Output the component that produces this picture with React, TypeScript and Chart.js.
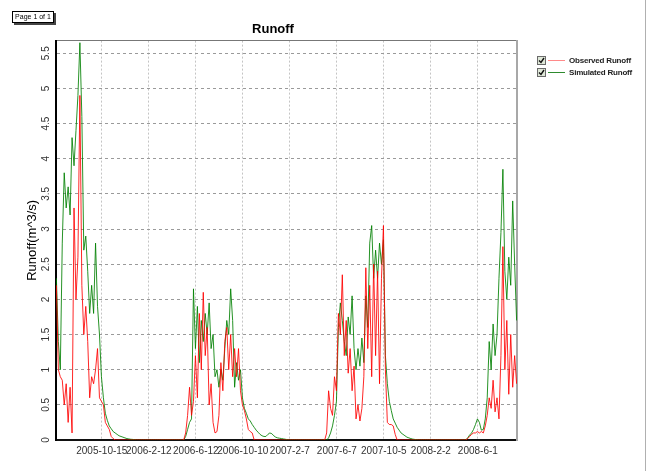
import React, { useEffect, useRef } from "react";
import { Chart, registerables } from "chart.js";

Chart.register(...registerables);

// x values are days relative to 2005-10-15; one sample every 5 days
const START_DAY = -116;
const STEP_DAYS = 5;
const X_MIN = -117;
const X_MAX = 1060;
const Y_MAX = 5.68;

const xTickDays = [0, 120, 240, 360, 480, 600, 720, 840, 960];
const xTickLabels = [
  "2005-10-15", "2006-2-12", "2006-6-12", "2006-10-10", "2007-2-7",
  "2007-6-7", "2007-10-5", "2008-2-2", "2008-6-1",
];
const yTickValues = [0, 0.5, 1, 1.5, 2, 2.5, 3, 3.5, 4, 4.5, 5, 5.5];

const observedRunoff = [
  2.2, 1.0, 0.9, 0.85, 0.5, 0.8, 0.25, 0.75, 0.1, 3.3,
  2.0, 2.6, 4.9, 2.2, 1.5, 1.9, 1.4, 0.6, 0.9, 0.8,
  1.0, 1.3, 0.6, 0.55, 0.5, 0.25, 0.2, 0.15, 0.05, 0.02,
  0, 0, 0, 0, 0, 0, 0, 0, 0, 0,
  0, 0, 0, 0, 0, 0, 0, 0, 0, 0,
  0, 0, 0, 0, 0, 0, 0, 0, 0, 0,
  0, 0, 0, 0, 0, 0,
  0.1, 0.35, 0.75, 0.35, 0.55, 1.2, 0.6, 1.8, 1.0, 2.1,
  1.2, 1.6, 0.5, 0.8, 0.25, 0.1, 0.12, 0.35, 1.1, 0.7,
  1.4, 1.6, 1.0, 1.5, 0.9, 1.3, 0.9, 1.3, 0.7, 0.5,
  0.42, 0.3, 0.15, 0.12, 0.1,
  0, 0, 0, 0, 0, 0, 0, 0, 0, 0,
  0, 0, 0, 0, 0, 0, 0, 0, 0, 0,
  0, 0, 0, 0, 0, 0, 0, 0, 0, 0,
  0, 0, 0, 0, 0, 0, 0,
  0.1, 0.7, 0.45, 0.35, 0.9, 0.7, 1.8, 1.5, 2.35, 1.2,
  1.7, 0.95, 1.3, 0.7, 1.05, 0.3, 0.5, 0.27, 0.45, 0.9,
  2.45, 1.3, 2.2, 0.9, 2.5, 1.2, 2.4, 0.8, 2.3, 3.05,
  1.0, 0.25, 0.22, 0.22, 0.2, 0.08,
  0, 0, 0, 0, 0, 0, 0, 0, 0, 0,
  0, 0, 0, 0, 0, 0, 0, 0, 0, 0,
  0, 0, 0, 0, 0, 0, 0, 0, 0, 0,
  0, 0, 0, 0, 0, 0,
  0.02, 0.05, 0.08, 0.1, 0.1, 0.12, 0.1, 0.12, 0.1, 0.2,
  0.35, 0.6, 0.45, 0.85, 0.4, 0.6, 0.3, 1.2, 2.75, 1.0,
  1.7, 0.65, 1.5, 0.75, 1.2, 0.8,
];

const simulatedRunoff = [
  2.3, 1.4, 1.0, 2.8, 3.8, 3.3, 3.6, 3.2, 4.3, 3.9,
  4.4, 4.9, 5.65, 4.6, 2.7, 2.9, 2.4, 1.8, 2.2, 1.8,
  2.8, 1.9, 1.5, 0.9, 0.6, 0.38, 0.28, 0.2, 0.16, 0.12,
  0.1, 0.08, 0.06, 0.05, 0.04, 0.03, 0.02, 0.015, 0.01, 0.008,
  0.005,
  0, 0, 0, 0, 0, 0, 0, 0, 0, 0,
  0, 0, 0, 0, 0, 0, 0, 0, 0, 0,
  0, 0, 0, 0, 0,
  0.05, 0.15, 0.25, 0.3, 2.15, 1.3, 1.9, 1.1, 1.7, 1.4,
  1.8, 1.5, 1.95, 1.3, 1.5, 0.9, 1.0, 0.75, 1.0, 0.85,
  1.3, 1.7, 1.5, 2.15, 1.7, 0.75, 1.1, 0.85, 1.0, 0.6,
  0.45, 0.38, 0.3, 0.27, 0.22, 0.18, 0.14, 0.11, 0.08, 0.06,
  0.05, 0.05, 0.08, 0.1, 0.09, 0.06, 0.04, 0.03, 0.025, 0.02,
  0.015, 0.01, 0.005,
  0, 0, 0, 0, 0, 0, 0, 0, 0, 0,
  0, 0, 0, 0, 0, 0, 0, 0, 0, 0,
  0.03, 0.1, 0.2, 0.35, 0.55, 1.6, 1.95, 1.7, 1.4, 1.2,
  1.75, 1.5, 2.05, 1.3, 1.0, 1.3, 1.05, 1.45, 1.1, 2.05,
  1.6, 2.8, 3.05, 2.3, 2.7, 2.3, 2.8, 2.5, 2.85, 1.2,
  0.8, 0.55, 0.42, 0.3, 0.24, 0.18, 0.14, 0.1, 0.08, 0.06,
  0.04, 0.03, 0.02, 0.012, 0.008, 0.004,
  0, 0, 0, 0, 0, 0, 0, 0, 0, 0,
  0, 0, 0, 0, 0, 0, 0, 0, 0, 0,
  0, 0, 0, 0, 0,
  0.03, 0.07, 0.1, 0.15, 0.22, 0.3, 0.25, 0.14, 0.15, 0.3,
  0.6, 1.4, 1.0, 1.65, 1.2, 1.5, 2.3, 2.95, 3.85, 2.4,
  2.0, 2.6, 2.2, 3.4, 2.5, 1.7,
];

const FONT = "'Liberation Sans', Arial, sans-serif";

function toPoints(values: number[]) {
  return values.map((y, i) => ({ x: START_DAY + i * STEP_DAYS, y }));
}

function CheckBox() {
  return (
    <span
      style={{
        display: "inline-block",
        width: 7,
        height: 7,
        border: "1px solid #6a6a6a",
        background: "#dfe8d8",
        position: "relative",
        boxSizing: "content-box",
      }}
    >
      <svg width="7" height="7" style={{ position: "absolute", left: 0, top: 0 }}>
        <polyline points="1,3.5 3,5.5 6,1" fill="none" stroke="#111" strokeWidth="1.4" />
      </svg>
    </span>
  );
}

export default function App() {
  const canvasRef = useRef<HTMLCanvasElement | null>(null);

  useEffect(() => {
    const canvas = canvasRef.current;
    if (!canvas) return;
    Chart.defaults.font.family = FONT;
    const chart = new Chart(canvas, {
      type: "line",
      data: {
        datasets: [
          {
            label: "Observed Runoff",
            data: toPoints(observedRunoff),
            borderColor: "rgba(255,0,0,0.85)",
            borderWidth: 1,
            pointRadius: 0,
            tension: 0,
            fill: false,
          },
          {
            label: "Simulated Runoff",
            data: toPoints(simulatedRunoff),
            borderColor: "rgba(0,128,0,0.85)",
            borderWidth: 1,
            pointRadius: 0,
            tension: 0,
            fill: false,
          },
        ],
      },
      options: {
        responsive: false,
        animation: false,
        layout: { padding: { left: 0, right: 110, top: 0, bottom: 0 } },
        plugins: {
          legend: { display: false },
          tooltip: { enabled: false },
          title: {
            display: true,
            text: "Runoff",
            color: "#000",
            font: { size: 13, weight: "bold", family: FONT },
            padding: { top: 22, bottom: 3 },
          },
        },
        scales: {
          x: {
            type: "linear",
            position: "bottom",
            min: X_MIN,
            max: X_MAX,
            afterBuildTicks: (s: any) => {
              s.ticks = xTickDays.map((v) => ({ value: v }));
            },
            afterFit: (s: any) => {
              s.height = 31;
            },
            ticks: {
              autoSkip: false,
              maxRotation: 0,
              minRotation: 0,
              padding: 5,
              color: "#333",
              font: { size: 10, family: FONT },
              callback: (_v: any, i: number) => xTickLabels[i],
            },
            grid: { color: "#c4c4c4", drawTicks: false, lineWidth: 1 },
            border: { display: true, color: "#111", width: 2, dash: [2, 2] },
          },
          x2: {
            type: "linear",
            position: "top",
            afterFit: (s: any) => {
              s.height = 0;
            },
            grid: { display: false, drawTicks: false },
            ticks: { display: false },
            border: { display: true, color: "#777", width: 1 },
          },
          y: {
            type: "linear",
            min: 0,
            max: Y_MAX,
            afterBuildTicks: (s: any) => {
              s.ticks = yTickValues.map((v) => ({ value: v }));
            },
            afterFit: (s: any) => {
              s.width = 56;
            },
            ticks: {
              minRotation: 90,
              maxRotation: 90,
              crossAlign: "center",
              padding: 2.5,
              color: "#333",
              font: { size: 10, family: FONT },
              callback: (v: any) => String(v),
            },
            grid: { color: "#9a9a9a", drawTicks: false, lineWidth: 1 },
            border: { display: true, color: "#000", width: 2, dash: [3, 3] },
            title: {
              display: true,
              text: "Runoff(m^3/s)",
              color: "#000",
              font: { size: 13, family: FONT },
              padding: { top: 25, bottom: 0 },
            },
          },
          y2: {
            type: "linear",
            position: "right",
            afterFit: (s: any) => {
              s.width = 29;
            },
            grid: { display: false, drawTicks: false },
            ticks: { display: false },
            border: { display: true, color: "#a8a8a8", width: 2 },
          },
        },
      } as any,
    });
    return () => chart.destroy();
  }, []);

  const legendRow = (label: string, color: string, top: number) => (
    <div
      style={{
        position: "absolute",
        left: 537,
        top,
        height: 12,
        display: "flex",
        alignItems: "center",
        whiteSpace: "nowrap",
      }}
    >
      <CheckBox />
      <span style={{ display: "inline-block", width: 17, height: 1, background: color, marginLeft: 2 }} />
      <span
        style={{
          marginLeft: 4,
          fontFamily: FONT,
          fontSize: 8,
          fontWeight: "bold",
          letterSpacing: -0.2,
          color: "#222",
        }}
      >
        {label}
      </span>
    </div>
  );

  return (
    <div
      style={{
        position: "fixed",
        left: 0,
        top: 0,
        width: 656,
        height: 471,
        background: "#fff",
        overflow: "hidden",
      }}
    >
      <canvas ref={canvasRef} width={656} height={471} style={{ position: "absolute", left: 0, top: 0 }} />
      <div
        style={{
          position: "absolute",
          left: 12,
          top: 11,
          width: 40,
          height: 10,
          border: "1px solid #000",
          background: "#fff",
          boxShadow: "2px 2px 0 #444",
          fontFamily: FONT,
          fontSize: 7,
          lineHeight: "10px",
          textAlign: "center",
          color: "#000",
        }}
      >
        Page 1 of 1
      </div>
      {legendRow("Observed Runoff", "#ff8a8a", 54)}
      {legendRow("Simulated Runoff", "#2e8b2e", 66)}
      <div style={{ position: "absolute", left: 645, top: 0, width: 1, height: 471, background: "#b0b0b0" }} />
    </div>
  );
}
